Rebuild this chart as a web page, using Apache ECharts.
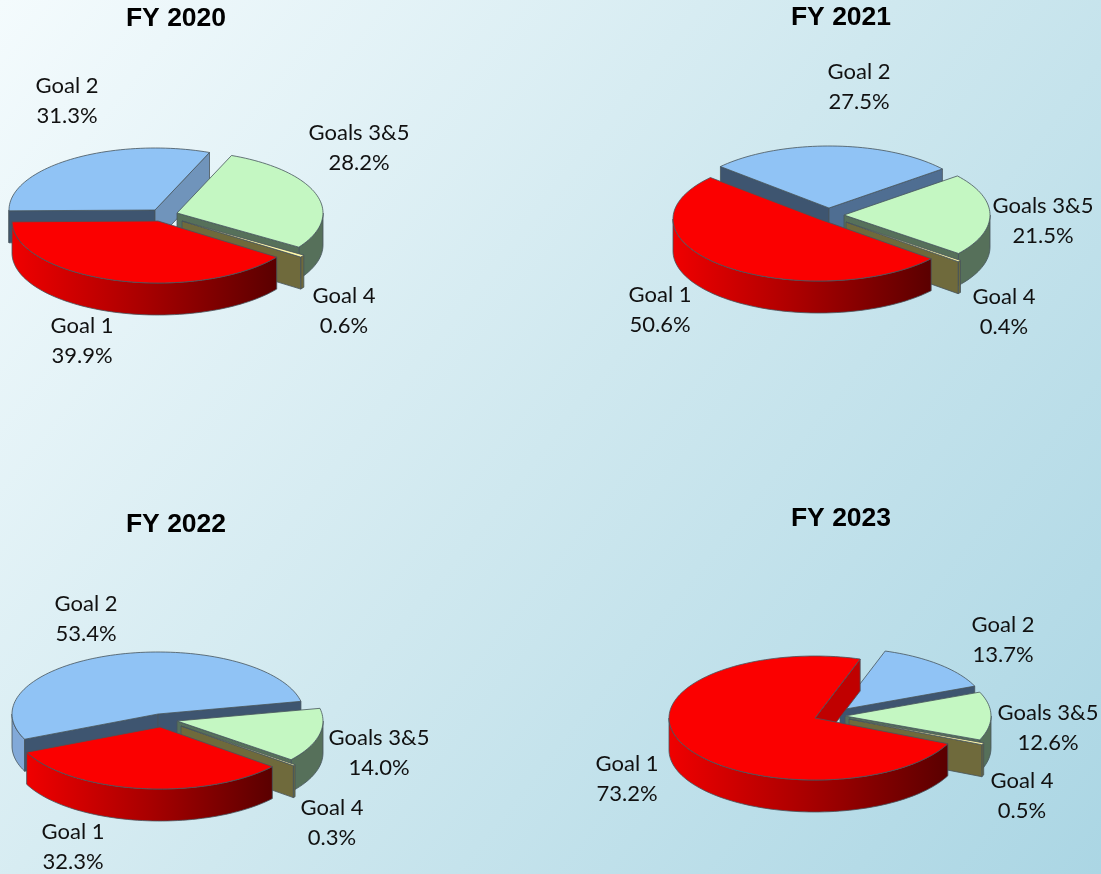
<!DOCTYPE html>
<html>
<head>
<meta charset="utf-8">
<style>html,body{margin:0;padding:0;width:1101px;height:874px;overflow:hidden}#c{width:1101px;height:874px}</style>
<script src="https://cdn.jsdelivr.net/npm/echarts@6/dist/echarts.min.js"></script>
</head>
<body>
<div id="c"></div>
<script>
// ---- data ----
const years = ['FY 2020', 'FY 2021', 'FY 2022', 'FY 2023'];
const goalNames = ['Goal 1', 'Goal 2', 'Goals 3&5', 'Goal 4'];
const fy2020 = [39.9, 31.3, 28.2, 0.6];
const fy2021 = [50.6, 27.5, 21.5, 0.4];
const fy2022 = [32.3, 53.4, 14.0, 0.3];
const fy2023 = [73.2, 13.7, 12.6, 0.5];
const yearValues = [fy2020, fy2021, fy2022, fy2023];

// ---- layout ----
const RX = 146, RY = 62, DEPTH = 32;
const startAngles = [35.6, 39.8, 39.7, 24.5];           // screen angle where Goal 1 begins
const drawOrder = [1, 2, 3, 0];                         // back to front
const titlePos = [[171, 0], [836, -1], [171, 506], [836, 500]];
const apexes = [
  [[158, 221], [155, 210], [177, 213], [182, 221]],
  [[819, 219], [829, 208], [844, 215], [846, 222]],
  [[160, 727], [158, 714], [177, 721], [181, 726]],
  [[815, 718], [840, 710], [845, 716], [849, 719]]
];
const labelPos = [
  [[82, 341], [67, 101], [359, 148], [344, 311]],
  [[660, 310], [859, 87], [1043, 221], [1004, 312]],
  [[73, 847], [86, 619], [379, 753], [332, 823]],
  [[627, 779], [1003, 640], [1048, 728], [1022, 796]]
];
// ---- style ----
const topColors = ['#fb0000', '#90c3f5', '#c4f7c2', '#fff8a8'];
const startWallColors = ['#c00000', '#3e5570', '#56705a', '#6f6a3c'];
const blueEndWall = ['#7094bb', '#4f6e92', '#3e5570', '#3e5570'];
const endWallColors = ['#c00000', null, '#56705a', '#6f6a3c'];
const outerWalls = [
  { type: 'linear', x: 0, y: 0, x2: 1, y2: 0, colorStops: [
    { offset: 0, color: '#f00000' }, { offset: 0.5, color: '#a80000' }, { offset: 1, color: '#5a0000' }] },
  '#82a9d8', '#56705a', '#6f6a3c'
];
const edge = '#46545c';

const rad = d => d * Math.PI / 180;

function makeRenderItem(p) {
  return function (params, api) {
    const v = api.value(0), i = api.value(1);
    const vals = yearValues[p];
    let before = 0;
    for (let k = 0; k < i; k++) before += vals[k];
    const a = startAngles[p] + before * 3.6;
    const b = a + v * 3.6;
    const [cx, cy] = apexes[p][i];
    const pt = (t, d) => [cx + RX * Math.cos(rad(t)), cy + RY * Math.sin(rad(t)) + (d || 0)];
    const arc = (s, e, d) => {
      const n = Math.max(2, Math.ceil((e - s) / 2));
      const out = [];
      for (let k = 0; k <= n; k++) out.push(pt(s + (e - s) * k / n, d));
      return out;
    };
    const style = fill => ({ fill: fill, stroke: edge, lineWidth: 0.8, lineJoin: 'round' });
    const kids = [];
    const poly = (points, fill) => kids.push({ type: 'polygon', shape: { points: points }, style: style(fill) });

    // outer rim: only the part facing the viewer (0..180, modulo 360)
    [0, 360].forEach(off => {
      const s = Math.max(a, off), e = Math.min(b, off + 180);
      if (e > s) poly(arc(s, e, 0).concat(arc(s, e, DEPTH).reverse()), outerWalls[i]);
    });
    // cut faces
    const na = ((a % 360) + 360) % 360, nb = ((b % 360) + 360) % 360;
    if (Math.cos(rad(na)) < 0) {
      const r = pt(a, 0);
      poly([[cx, cy], r, [r[0], r[1] + DEPTH], [cx, cy + DEPTH]], startWallColors[i]);
    }
    if (Math.cos(rad(nb)) > 0) {
      const r = pt(b, 0);
      poly([[cx, cy], r, [r[0], r[1] + DEPTH], [cx, cy + DEPTH]], endWallColors[i] || blueEndWall[p]);
    }
    // top face
    poly([[cx, cy]].concat(arc(a, b, 0)), topColors[i]);
    // label
    kids.push({
      type: 'text',
      z2: 50,
      style: {
        text: goalNames[i] + '\n' + v.toFixed(1) + '%',
        x: labelPos[p][i][0], y: labelPos[p][i][1],
        align: 'center', verticalAlign: 'middle',
        font: '22px Lato', lineHeight: 30, fill: '#111'
      }
    });
    return { type: 'group', children: kids };
  };
}

const chart = echarts.init(document.getElementById('c'), null, { renderer: 'canvas' });
chart.setOption({
  animation: false,
  backgroundColor: {
    type: 'linear', x: 0, y: 0, x2: 1, y2: 1,
    colorStops: [{ offset: 0, color: '#f4fbfd' }, { offset: 0.5, color: '#cfe8ef' }, { offset: 1, color: '#abd6e4' }]
  },
  title: years.map((y, p) => ({
    text: y, left: titlePos[p][0], top: titlePos[p][1], textAlign: 'center',
    textStyle: { fontFamily: 'Liberation Sans', fontWeight: 'bold', fontSize: 26.5, color: '#000' }
  })),
  series: years.map((y, p) => ({
    type: 'custom',
    name: y,
    coordinateSystem: 'none',
    silent: true,
    renderItem: makeRenderItem(p),
    data: drawOrder.map(i => ({ name: goalNames[i], value: [yearValues[p][i], i] }))
  }))
});
</script>
</body>
</html>
